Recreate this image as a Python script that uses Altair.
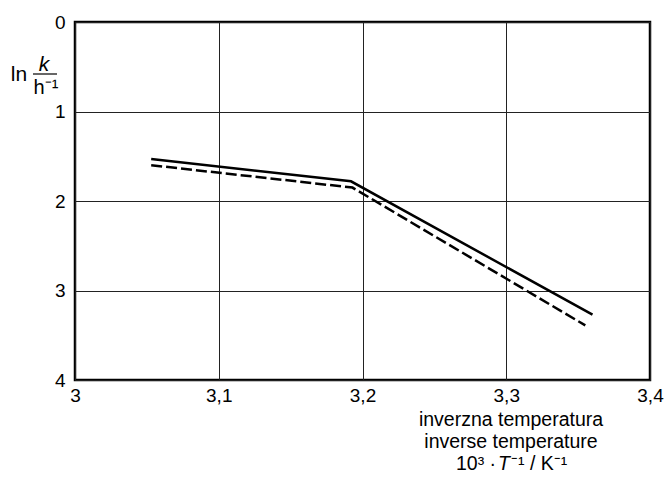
import altair as alt
import pandas as pd

# ---- data ----
x_solid = [3.053, 3.192, 3.360]
y_solid = [1.53, 1.78, 3.27]
x_dashed = [3.053, 3.193, 3.355]
y_dashed = [1.60, 1.85, 3.39]
x_ticks = [3.0, 3.1, 3.2, 3.3, 3.4]
y_ticks = [0, 1, 2, 3, 4]
x_title_lines = ["inverzna temperatura", "inverse temperature"]

FONT = "Liberation Sans"

df_s = pd.DataFrame({"x": x_solid, "y": y_solid})
df_d = pd.DataFrame({"x": x_dashed, "y": y_dashed})
one = pd.DataFrame({"a": [0]})

xs = alt.Scale(domain=[3.0, 3.4], nice=False, zero=False)
ys = alt.Scale(domain=[0, 4], reverse=True, nice=False, zero=False)

x_axis = alt.Axis(values=x_ticks, labelExpr="replace(format(datum.value, '~g'), '.', ',')",
                  grid=True, domain=False, ticks=False, title=None, labelFlush=False,
                  labelOverlap=False, labelPadding=6, labelFontSize=19, labelFont=FONT,
                  labelColor="black", gridColor="#222222", gridWidth=1)
y_axis = alt.Axis(values=y_ticks, format="d", grid=True, domain=False, ticks=False, title=None,
                  labelFlush=False, labelOverlap=False, labelPadding=10, labelFontSize=19,
                  labelFont=FONT, labelColor="black", gridColor="#222222", gridWidth=1)

solid = alt.Chart(df_s).mark_line(color="black", strokeWidth=2.5).encode(
    x=alt.X("x:Q", scale=xs, axis=x_axis),
    y=alt.Y("y:Q", scale=ys, axis=y_axis),
)
dashed = alt.Chart(df_d).mark_line(color="black", strokeWidth=2.5, strokeDash=[11, 4]).encode(
    x=alt.X("x:Q", scale=xs),
    y=alt.Y("y:Q", scale=ys),
)

def txt(s, x, y, size=19.5, style="normal", align="center", baseline="middle"):
    return alt.Chart(one).mark_text(text=s, font=FONT, fontSize=size, fontStyle=style,
                                    align=align, baseline=baseline, color="black").encode(
        x=alt.value(x), y=alt.value(y))

# y-axis title: ln k / h^-1 (positions relative to plot origin)
ln = txt("ln", -56, 53, size=21)
k = txt("k", -31, 43, size=21, style="italic")
bar = alt.Chart(one).mark_rule(color="black", strokeWidth=1.2).encode(
    x=alt.value(-42), x2=alt.value(-18), y=alt.value(52))
h = txt("h⁻¹", -29, 66, size=20)

# x-axis title lines
t1 = txt(x_title_lines[0], 436, 398)
t2 = txt(x_title_lines[1], 436, 420)
t3a = txt("10³ · ", 381, 442, align="left")
t3b = txt("T", 423, 442, style="italic", align="left")
t3c = txt("⁻¹ / K⁻¹", 436, 442, align="left")

chart = alt.layer(solid, dashed, ln, k, bar, h, t1, t2, t3a, t3b, t3c).properties(
    width=575, height=358,
    padding={"left": 75, "top": 22, "right": 15, "bottom": 98},
    autosize=alt.AutoSizeParams(type="none"),
    background="white",
).configure_view(stroke="black", strokeWidth=2.5)

chart.save("out.html", embed_options={"renderer": "svg", "actions": False})
